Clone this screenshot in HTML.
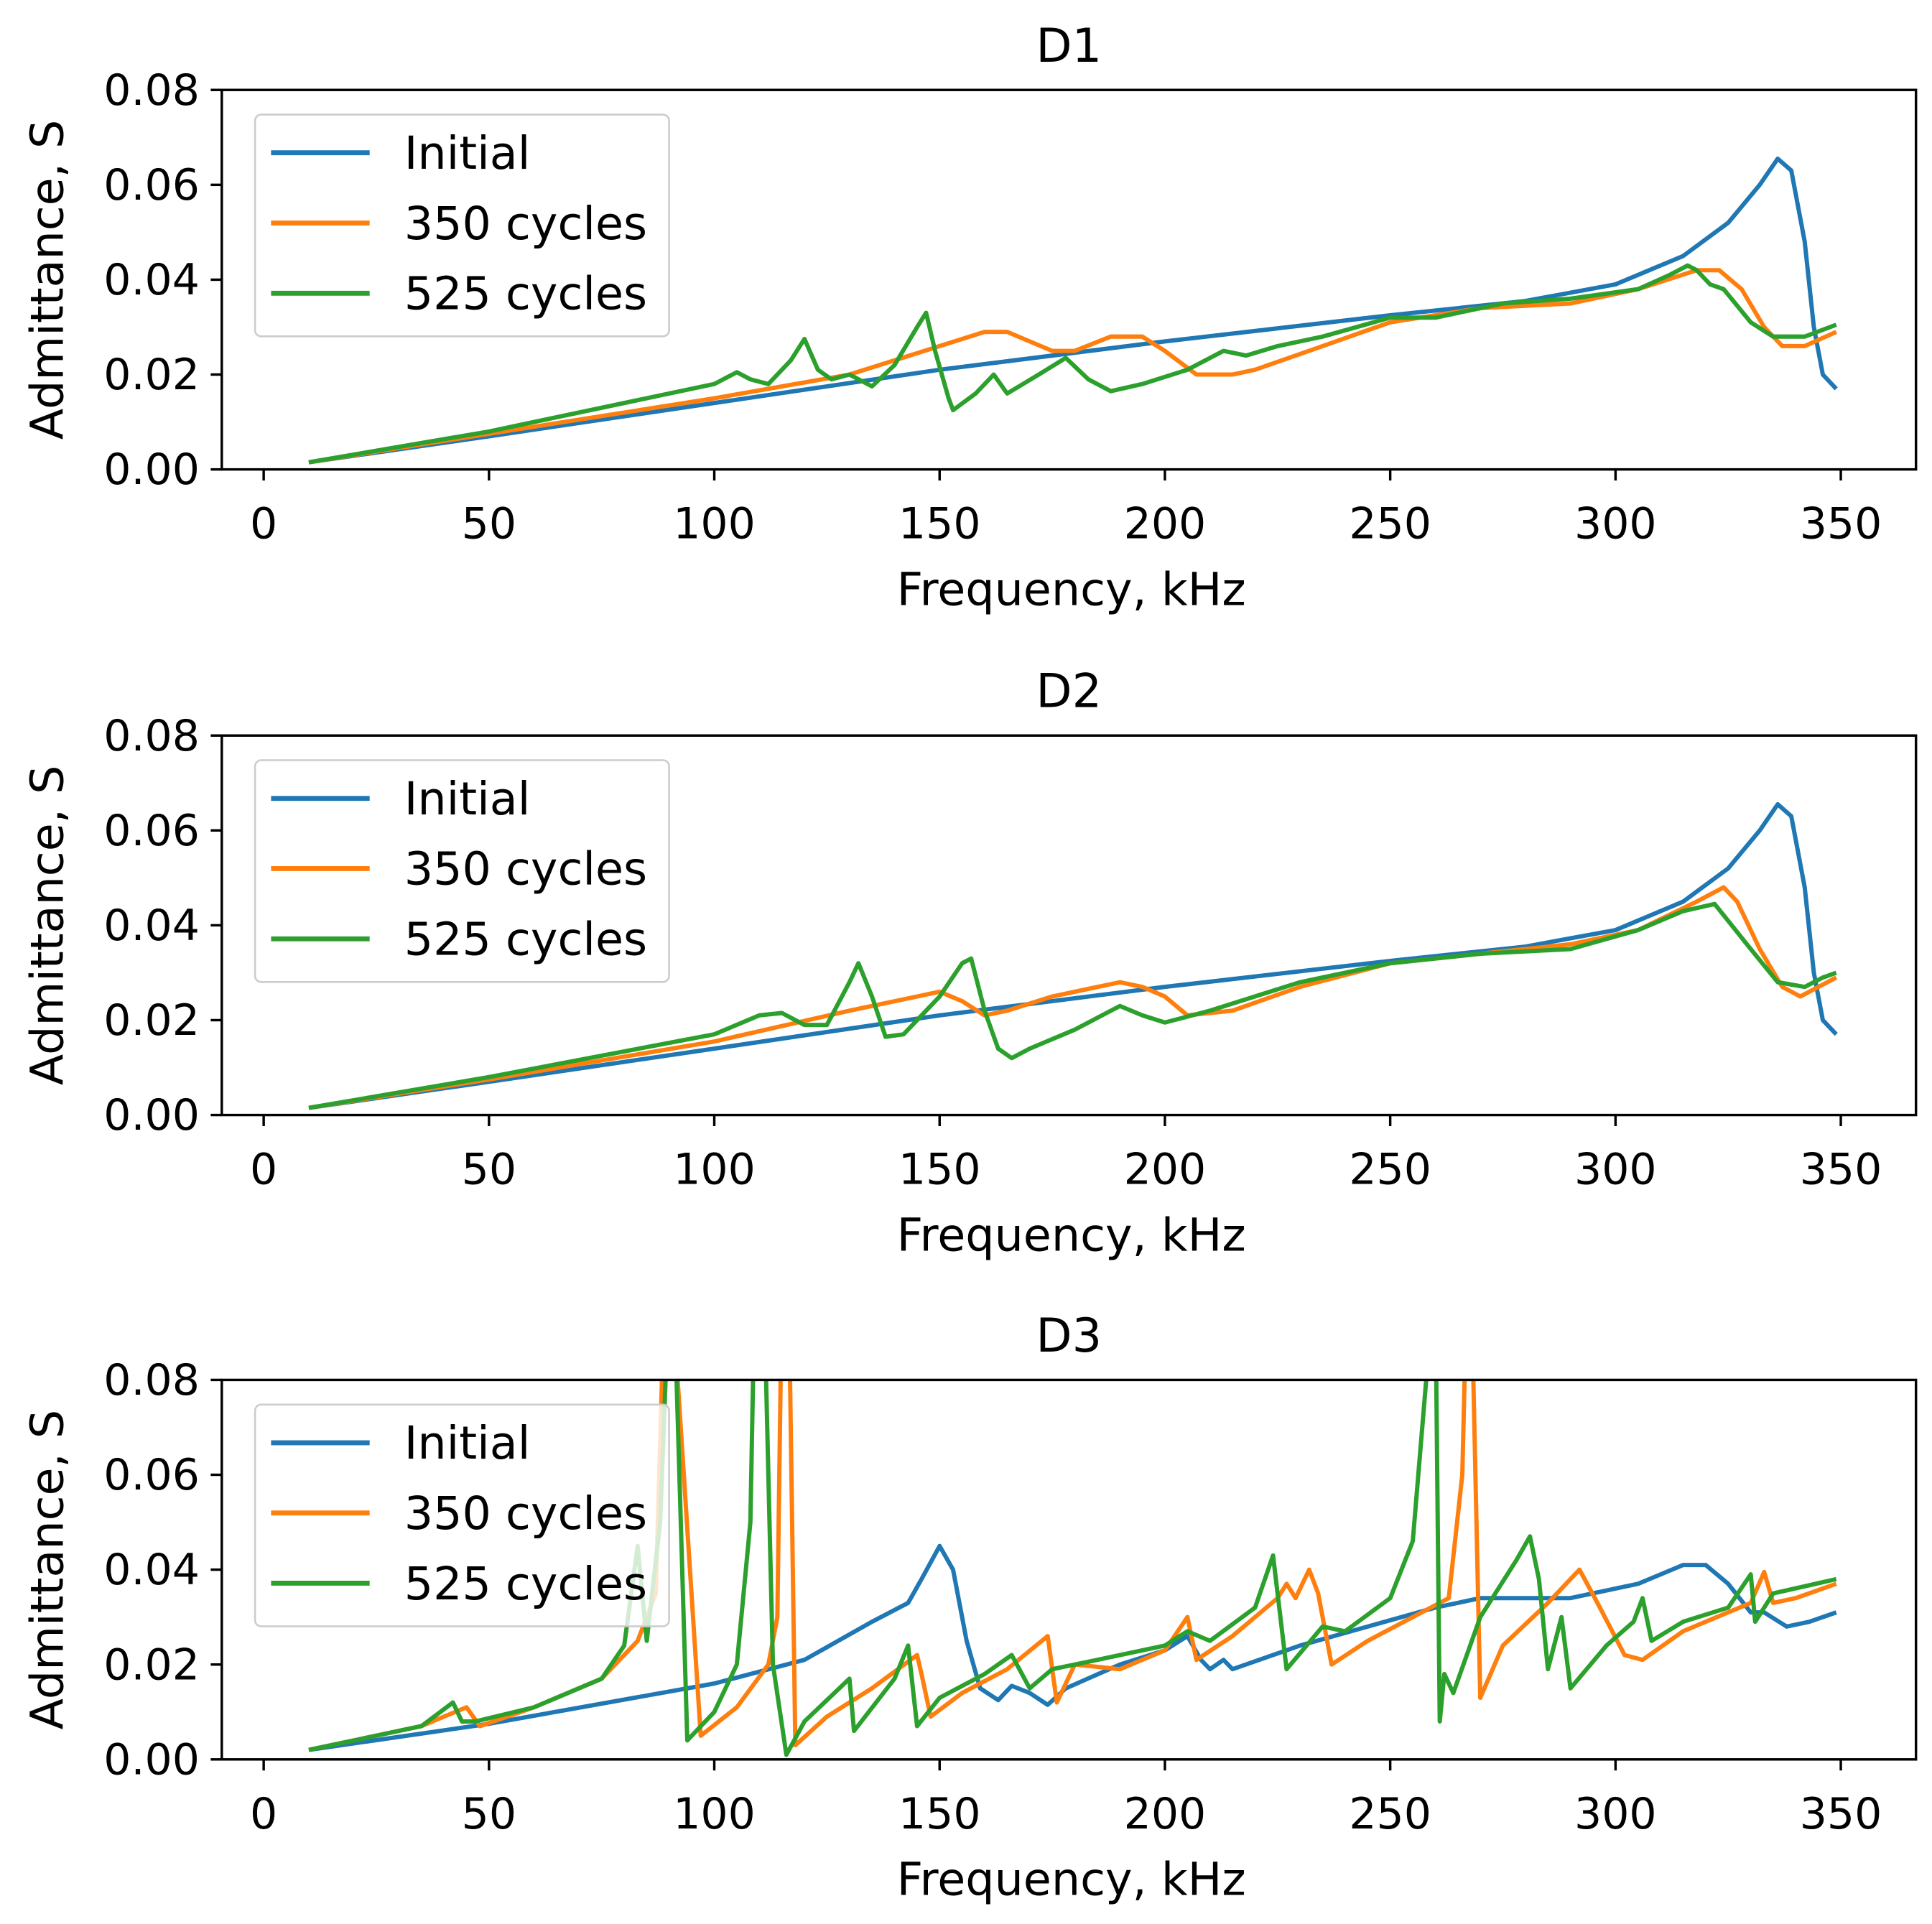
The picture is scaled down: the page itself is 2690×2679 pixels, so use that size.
<!DOCTYPE html>
<html><head><meta charset="utf-8"><style>
html,body{margin:0;padding:0;background:#fff;}
svg{display:block;}
text{font-family:"DejaVu Sans","Liberation Sans",sans-serif;fill:#000;}
</style></head><body>
<svg id="fig" width="2690" height="2679" viewBox="0 0 1568 1561.6" xmlns="http://www.w3.org/2000/svg"></svg>
<script>
const panelTitles = ["D1","D2","D3"];
const seriesNames = ["Initial","350 cycles","525 cycles"];
const xTicks = [0,50,100,150,200,250,300,350];
const yTicks = [0,0.02,0.04,0.06,0.08];
const yTickLabels = ["0.00","0.02","0.04","0.06","0.08"];
const d1Initial = [[10,0.0015],[50,0.007],[100,0.014],[150,0.021],[200,0.027],[250,0.0325],[280,0.0355],[300,0.039],[315,0.045],[325,0.052],[332,0.06],[336,0.0655],[339,0.063],[342,0.048],[344,0.03],[346,0.02],[349,0.017]];
const d1C350 = [[10,0.0015],[50,0.0075],[100,0.015],[130,0.02],[150,0.026],[160,0.029],[165,0.029],[175,0.025],[180,0.025],[188,0.028],[195,0.028],[200,0.025],[207,0.02],[215,0.02],[220,0.021],[235,0.026],[250,0.031],[270,0.034],[290,0.035],[305,0.038],[318,0.042],[323,0.042],[328,0.038],[333,0.03],[337,0.026],[342,0.026],[349,0.029]];
const d1C525 = [[10,0.0015],[50,0.008],[100,0.018],[105,0.0205],[108,0.019],[112,0.018],[117,0.023],[120,0.0275],[123,0.021],[126,0.019],[130,0.02],[135,0.0175],[140,0.022],[145,0.03],[147,0.033],[149,0.025],[152,0.015],[153,0.0125],[158,0.016],[162,0.02],[165,0.016],[172,0.02],[178,0.0235],[183,0.019],[188,0.0165],[195,0.018],[205,0.021],[213,0.025],[218,0.024],[225,0.026],[235,0.028],[250,0.032],[260,0.032],[275,0.035],[290,0.036],[305,0.038],[312,0.041],[316,0.043],[318,0.042],[321,0.039],[324,0.038],[330,0.031],[335,0.028],[342,0.028],[349,0.0305]];
const d2Initial = [[10,0.0015],[50,0.007],[100,0.014],[150,0.021],[200,0.027],[250,0.0325],[280,0.0355],[300,0.039],[315,0.045],[325,0.052],[332,0.06],[336,0.0655],[339,0.063],[342,0.048],[344,0.03],[346,0.02],[349,0.017]];
const d2C350 = [[10,0.0015],[50,0.0075],[100,0.0155],[130,0.022],[145,0.025],[150,0.026],[155,0.024],[160,0.021],[165,0.022],[175,0.025],[190,0.028],[195,0.027],[200,0.025],[205,0.021],[215,0.022],[230,0.027],[250,0.032],[270,0.034],[290,0.036],[305,0.039],[318,0.045],[324,0.048],[327,0.045],[332,0.035],[337,0.027],[341,0.025],[349,0.029]];
const d2C525 = [[10,0.0015],[50,0.008],[100,0.017],[110,0.021],[115,0.0215],[120,0.019],[125,0.019],[130,0.028],[132,0.032],[135,0.025],[138,0.0165],[142,0.017],[150,0.025],[155,0.032],[157,0.033],[160,0.022],[163,0.014],[166,0.012],[170,0.014],[180,0.018],[190,0.023],[195,0.021],[200,0.0195],[210,0.022],[230,0.028],[250,0.032],[270,0.034],[290,0.035],[305,0.039],[315,0.043],[322,0.0445],[330,0.035],[336,0.028],[342,0.027],[346,0.029],[349,0.03]];
const d3Initial = [[10,0.002],[50,0.0075],[100,0.016],[120,0.021],[135,0.029],[143,0.033],[146,0.038],[150,0.045],[153,0.04],[156,0.025],[159,0.015],[163,0.0125],[166,0.0155],[170,0.014],[174,0.0115],[178,0.015],[190,0.02],[200,0.023],[205,0.026],[208,0.021],[210,0.019],[213,0.021],[215,0.019],[230,0.024],[245,0.028],[260,0.032],[270,0.034],[290,0.034],[305,0.037],[315,0.041],[320,0.041],[325,0.037],[330,0.031],[333,0.031],[338,0.028],[343,0.029],[349,0.031]];
const d3C350 = [[10,0.002],[35,0.007],[40,0.009],[45,0.011],[48,0.007],[60,0.011],[75,0.017],[83,0.025],[87,0.035],[89,0.1],[90.5,0.1],[97,0.005],[105,0.011],[112,0.02],[114,0.03],[115,0.1],[116.5,0.1],[118,0.003],[125,0.009],[135,0.015],[145,0.022],[146,0.018],[148,0.009],[155,0.014],[165,0.019],[174,0.026],[176,0.012],[180,0.02],[190,0.019],[200,0.023],[205,0.03],[207,0.021],[215,0.026],[225,0.034],[227,0.037],[229,0.034],[232,0.04],[234,0.035],[237,0.02],[245,0.025],[255,0.03],[263,0.034],[266,0.06],[267,0.1],[268,0.1],[270,0.013],[275,0.024],[285,0.033],[292,0.04],[296,0.033],[302,0.022],[306,0.021],[315,0.027],[320,0.029],[330,0.033],[333,0.0395],[335,0.033],[340,0.034],[349,0.037]];
const d3C525 = [[10,0.002],[35,0.007],[42,0.012],[44,0.008],[47,0.008],[60,0.011],[75,0.017],[80,0.024],[83,0.045],[85,0.025],[88,0.05],[90,0.1],[91,0.1],[94,0.004],[100,0.01],[105,0.02],[108,0.05],[109,0.1],[111,0.1],[113,0.02],[116,0.001],[120,0.008],[130,0.017],[131,0.006],[140,0.017],[143,0.024],[145,0.007],[150,0.013],[160,0.018],[166,0.022],[170,0.015],[175,0.019],[185,0.021],[200,0.024],[205,0.027],[210,0.025],[220,0.032],[224,0.043],[227,0.019],[235,0.028],[240,0.027],[250,0.034],[255,0.046],[258,0.08],[259,0.1],[260,0.1],[261,0.008],[262,0.018],[264,0.014],[270,0.03],[278,0.042],[281,0.047],[283,0.038],[285,0.019],[288,0.03],[290,0.015],[298,0.024],[304,0.029],[306,0.034],[308,0.025],[315,0.029],[325,0.032],[330,0.039],[331,0.029],[335,0.035],[349,0.038]];
const panelData = [[d1Initial,d1C350,d1C525],[d2Initial,d2C350,d2C525],[d3Initial,d3C350,d3C525]];
const colors = ["#1f77b4","#ff7f0e","#2ca02c"];
const NS = "http://www.w3.org/2000/svg";
const svg = document.getElementById("fig");
function mk(tag, attrs, parent){const e=document.createElementNS(NS,tag);for(const k in attrs)e.setAttribute(k,attrs[k]);(parent||svg).appendChild(e);return e;}
const L=180,R=1555,H=308;
const tops=[73,597,1120];
function xs(v){return 214+v*(1280/350);}
panelTitles.forEach((title,p)=>{
  const T=tops[p],B=T+H;
  function ys(v){return B-v*(H/0.08);}
  const g=mk("g",{});
  
  
  const cp=mk("clipPath",{id:"clip"+p},g);
  mk("rect",{x:L,y:T,width:R-L,height:H},cp);
  const t=mk("text",{x:(L+R)/2,y:T-23,"text-anchor":"middle","font-size":"38"},g);t.textContent=title;
  
  
  xTicks.forEach(v=>{
    const x=xs(v);
    mk("line",{x1:x,y1:B,x2:x,y2:B+9,stroke:"#000","stroke-width":2},g);
    const tl=mk("text",{x:x,y:B+56,"text-anchor":"middle","font-size":"35"},g);tl.textContent=v;
    
    
  });
  yTicks.forEach((v,i)=>{
    const y=ys(v);
    mk("line",{x1:L-9,y1:y,x2:L,y2:y,stroke:"#000","stroke-width":2},g);
    const tl=mk("text",{x:L-18,y:y+12,"text-anchor":"end","font-size":"35"},g);tl.textContent=yTickLabels[i];
    
    
  });
  const xl=mk("text",{x:(L+R)/2+2,y:B+110,"text-anchor":"middle","font-size":"37"},g);xl.textContent="Frequency, kHz";
  
  
  const yl=mk("text",{x:0,y:0,"text-anchor":"middle","font-size":"37",transform:`translate(51,${(T+B)/2}) rotate(-90)`},g);yl.textContent="Admittance, S";
  
  
  const lines=mk("g",{"clip-path":`url(#clip${p})`},g);
  panelData[p].forEach((ser,s)=>{
    const d=ser.map((pt,i)=>(i?"L":"M")+xs(pt[0]).toFixed(1)+","+ys(pt[1]).toFixed(1)).join(" ");
    const path=mk("path",{d:d,fill:"none",stroke:colors[s],"stroke-width":3.5,"stroke-linejoin":"round"},lines);
    
    
  });
  mk("rect",{x:L,y:T,width:R-L,height:H,fill:"none",stroke:"#000","stroke-width":2},g);
  const lg=mk("g",{},g);
  
  
  mk("rect",{x:207,y:T+20,width:336,height:180,rx:5,fill:"#fff","fill-opacity":0.8,stroke:"#ccc","stroke-width":1.5},lg);
  seriesNames.forEach((n,s)=>{
    const y=T+51+s*57;
    mk("line",{x1:220,y1:y,x2:300,y2:y,stroke:colors[s],"stroke-width":4},lg);
    const lt=mk("text",{x:328,y:y+13,"font-size":"37"},lg);lt.textContent=n;
    
    
  });
});
</script>
</body></html>
